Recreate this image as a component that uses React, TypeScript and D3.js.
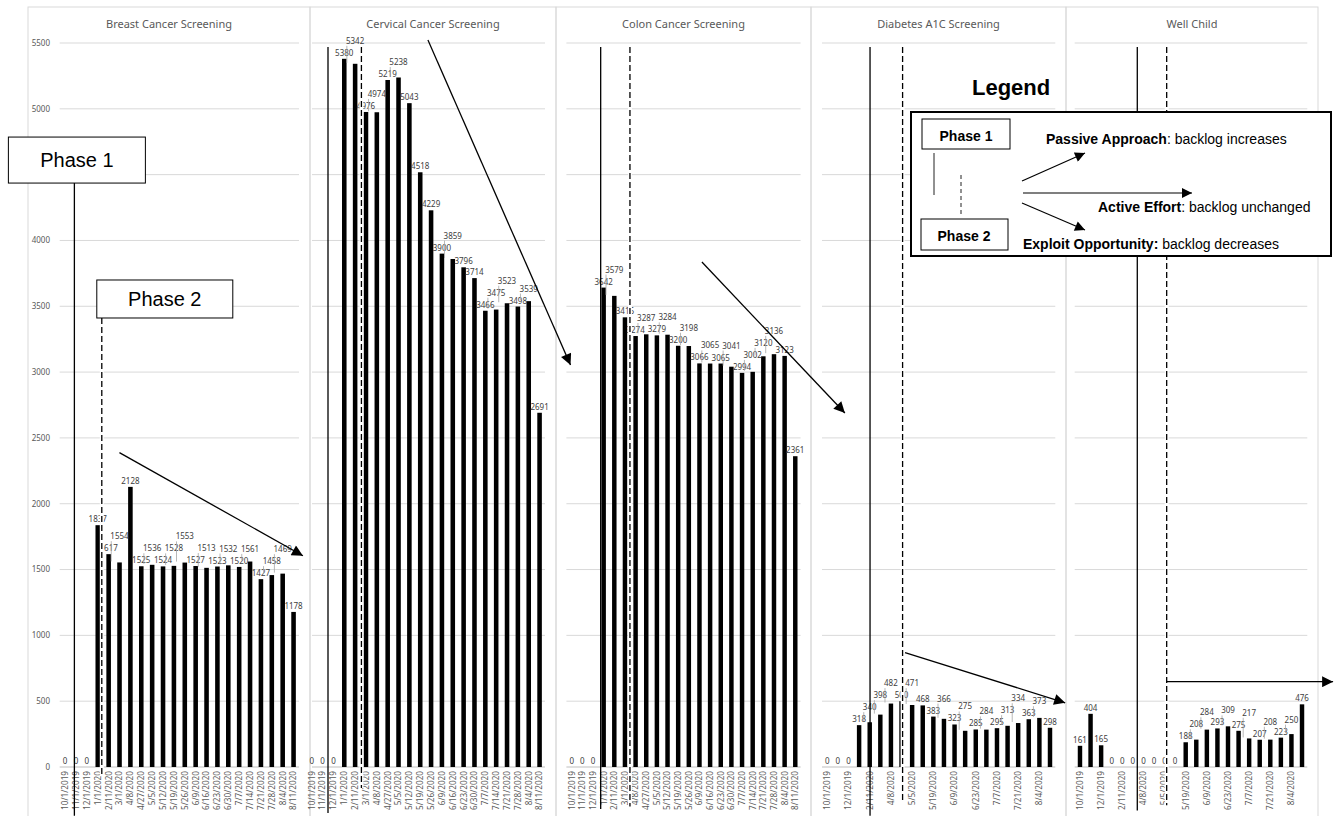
import React from "react";
import * as d3 from "d3";

const categories = ["10/1/2019","11/1/2019","12/1/2019","1/1/2020","2/11/2020","3/1/2020","4/8/2020","4/27/2020","5/5/2020","5/12/2020","5/19/2020","5/26/2020","6/9/2020","6/16/2020","6/23/2020","6/30/2020","7/7/2020","7/14/2020","7/21/2020","7/28/2020","8/4/2020","8/11/2020"];

const breast = [0,0,0,1837,1617,1554,2128,1525,1536,1524,1528,1553,1527,1513,1523,1532,1520,1561,1427,1458,1469,1178];
const cervical = [0,0,0,5380,5342,4976,4974,5219,5238,5043,4518,4229,3900,3859,3796,3714,3466,3475,3523,3498,3539,2691];
const colon = [0,0,0,3642,3579,3416,3274,3287,3279,3284,3200,3198,3066,3065,3065,3041,2994,3002,3120,3136,3123,2361];
const diabetes = [0,0,0,318,340,398,482,500,471,468,383,366,323,275,285,284,295,313,334,363,373,298];
const wellChild = [161,404,165,0,0,0,0,0,0,0,188,208,284,293,309,275,217,207,208,223,250,476];

const yTicks = d3.range(0, 5501, 500);

// phase markers in data units: [category index, top value, bottom value]
const phase1Lines = [[0.85, 4436, -370], [1.5, 5470, -350], [2.72, 5470, -320], [4.03, 5470, -370], [5.42, 5470, -330]];
const phase2Lines = [[3.37, 3411, -60], [4.58, 5470, -160], [5.47, 5470, -300], [7.1, 5470, -250], [8.2, 5470, -290]];
// trend arrows in data units: [fromIdx, fromValue, toIdx, toValue]
const trendArrows = [[4.99, 2388, 21.86, 1605], [10.71, 5523, 23.85, 3054], [12.23, 3836, 25.66, 2689], [7.33, 868, 22.43, 488], [8.2, 648, 23.94, 648]];

const titles = ["Breast Cancer Screening", "Cervical Cancer Screening", "Colon Cancer Screening", "Diabetes A1C Screening", "Well Child"];
const seriesList = [breast, cervical, colon, diabetes, wellChild];
const labelEvery = [1, 1, 1, 2, 2];

// layout
const W = 1338, H = 816;
const Y0 = 767, YTOP = 43;
const panelBoxes = [[28, 310], [310, 556], [556, 811], [811, 1066], [1066, 1318]];
const plotRanges = [[59.7, 299], [306.3, 545], [566.4, 800.6], [822, 1055.3], [1074.7, 1307.3]];

const FONT = "'Noto Sans', sans-serif";
const ARIAL = "'Liberation Sans', Arial, sans-serif";
const GRAY = "#595959";

function Panel({ idx, y }: { idx: number; y: d3.ScaleLinear<number, number> }) {
  const values = seriesList[idx];
  const [px0, px1] = panelBoxes[idx];
  const range = plotRanges[idx] as [number, number];
  const xb = d3.scaleBand<string>().domain(categories).range(range).paddingInner(0.58).paddingOuter(0.29);
  const xi = d3.scaleLinear().domain([-0.5, categories.length - 0.5]).range(range);
  const fs = 8;
  const labels: { v: number; cx: number; top: number; w: number; base: number }[] = [];
  values.forEach((v, i) => {
    const cx = xi(i);
    const top = y(v);
    const w = String(v).length * fs * 0.58;
    let base = top - 3;
    const prev = labels[i - 1];
    if (prev && Math.abs(prev.cx - cx) < (prev.w + w) / 2 + 1 && Math.abs(prev.base - base) < fs + 1) {
      base = prev.base - (fs + 4);
    }
    labels.push({ v, cx, top, w, base });
  });
  const gx0 = Math.max(range[0], px0 + 2);
  return (
    <g>
      <rect x={px0} y={7} width={px1 - px0} height={830} fill="none" stroke="#d9d9d9" strokeWidth={1} />
      <text x={(px0 + px1) / 2} y={28} textAnchor="middle" fontSize={11} fill={GRAY} fontFamily={FONT}>{titles[idx]}</text>
      {yTicks.map(t => (
        <line key={t} x1={gx0} x2={range[1]} y1={y(t)} y2={y(t)} stroke={t === 0 ? "#bfbfbf" : "#d9d9d9"} strokeWidth={1} />
      ))}
      {idx === 0 && yTicks.map(t => (
        <text key={"yl" + t} x={50} y={y(t)} dy="0.35em" textAnchor="end" fontSize={8} fill={GRAY} fontFamily={FONT}>{t}</text>
      ))}
      {values.map((v, i) => (
        <rect key={i} x={xb(categories[i])} y={y(v)} width={xb.bandwidth()} height={Y0 - y(v)} fill="#000" />
      ))}
      {labels.map((l, i) => (
        <g key={"l" + i}>
          {l.base < l.top - 7 && (
            <line x1={l.cx - l.w / 2 + 1} x2={l.cx - l.w / 2 + 1} y1={l.base + 2} y2={l.top - 1} stroke="#a6a6a6" strokeWidth={0.8} />
          )}
          <text x={l.cx} y={l.base} textAnchor="middle" fontSize={fs} fill="#404040" fontFamily={FONT}>{l.v}</text>
        </g>
      ))}
      {categories.map((c, i) => (i % labelEvery[idx] === 0 ? (
        <text key={"t" + i} transform={`translate(${xi(i)},${Y0 + 4}) rotate(-90)`} dy="0.35em" textAnchor="end" fontSize={8.2} fill={GRAY} fontFamily={FONT}>{c}</text>
      ) : null))}
    </g>
  );
}

function Annotations({ idx, y }: { idx: number; y: d3.ScaleLinear<number, number> }) {
  const range = plotRanges[idx] as [number, number];
  const xi = d3.scaleLinear().domain([-0.5, categories.length - 0.5]).range(range);
  const p1 = phase1Lines[idx];
  const p2 = phase2Lines[idx];
  const a = trendArrows[idx];
  return (
    <g>
      <line x1={xi(p1[0])} x2={xi(p1[0])} y1={y(p1[1])} y2={y(p1[2])} stroke="#000" strokeWidth={1.3} />
      <line x1={xi(p2[0])} x2={xi(p2[0])} y1={y(p2[1])} y2={y(p2[2])} stroke="#fff" strokeWidth={4} />
      <line x1={xi(p2[0])} x2={xi(p2[0])} y1={y(p2[1])} y2={y(p2[2])} stroke="#000" strokeWidth={1.3} strokeDasharray="6,3" />
      <line x1={xi(a[0])} y1={y(a[1])} x2={xi(a[2])} y2={y(a[3])} stroke="#000" strokeWidth={1.3} markerEnd="url(#ah)" />
    </g>
  );
}

function PhaseBoxes({ y }: { y: d3.ScaleLinear<number, number> }) {
  const xi = d3.scaleLinear().domain([-0.5, categories.length - 0.5]).range(plotRanges[0] as [number, number]);
  const s1 = xi(phase1Lines[0][0]);
  const t1 = y(phase1Lines[0][1]);
  const s2 = xi(phase2Lines[0][0]);
  const t2 = y(phase2Lines[0][1]);
  return (
    <g fontFamily={ARIAL}>
      <rect x={s1 - 66} y={t1 - 46} width={137} height={46} fill="#fff" stroke="#000" strokeWidth={1} />
      <text x={s1 + 2.5} y={t1 - 16} textAnchor="middle" fontSize={20}>Phase 1</text>
      <rect x={s2 - 5} y={t2 - 38} width={136} height={38} fill="#fff" stroke="#000" strokeWidth={1} />
      <text x={s2 + 63} y={t2 - 12} textAnchor="middle" fontSize={20}>Phase 2</text>
    </g>
  );
}

function Legend() {
  return (
    <g fontFamily={ARIAL}>
      <text x={972} y={95} fontSize={22} fontWeight="bold">Legend</text>
      <rect x={911} y={112} width={420} height={144} fill="#fff" stroke="#000" strokeWidth={2} />
      <rect x={922} y={119} width={88} height={30} fill="#fff" stroke="#000" strokeWidth={1} />
      <text x={966} y={141} textAnchor="middle" fontSize={14} fontWeight="bold">Phase 1</text>
      <line x1={934} x2={934} y1={153} y2={195} stroke="#222" strokeWidth={1} />
      <line x1={961} x2={961} y1={175} y2={217} stroke="#222" strokeWidth={1} strokeDasharray="4,3" />
      <rect x={921} y={219} width={87} height={31} fill="#fff" stroke="#000" strokeWidth={1} />
      <text x={964} y={241} textAnchor="middle" fontSize={14} fontWeight="bold">Phase 2</text>
      <line x1={1022} y1={181} x2={1085} y2={153} stroke="#000" strokeWidth={1.2} markerEnd="url(#ahs)" />
      <line x1={1023} y1={193} x2={1192} y2={193} stroke="#000" strokeWidth={1.2} markerEnd="url(#ahs)" />
      <line x1={1022} y1={203} x2={1085} y2={230} stroke="#000" strokeWidth={1.2} markerEnd="url(#ahs)" />
      <text x={1046} y={144} fontSize={14}><tspan fontWeight="bold">Passive Approach</tspan>: backlog increases</text>
      <text x={1098} y={212} fontSize={14}><tspan fontWeight="bold">Active Effort</tspan>: backlog unchanged</text>
      <text x={1023} y={249} fontSize={14}><tspan fontWeight="bold">Exploit Opportunity:</tspan> backlog decreases</text>
    </g>
  );
}

export default function App() {
  const y = d3.scaleLinear().domain([0, 5500]).range([Y0, YTOP]);
  return (
    <svg width={W} height={H} style={{ position: "absolute", left: 0, top: 0, background: "#fff" }}>
      <defs>
        <marker id="ah" viewBox="0 0 10 10" refX="10" refY="5" markerWidth="15" markerHeight="11" markerUnits="userSpaceOnUse" orient="auto">
          <path d="M0,0L10,5L0,10z" fill="#000" />
        </marker>
        <marker id="ahs" viewBox="0 0 10 10" refX="10" refY="5" markerWidth="12" markerHeight="10" markerUnits="userSpaceOnUse" orient="auto">
          <path d="M0,0L10,5L0,10z" fill="#000" />
        </marker>
      </defs>
      <rect width={W} height={H} fill="#fff" />
      {titles.map((t, i) => <Panel key={t} idx={i} y={y} />)}
      {titles.map((t, i) => <Annotations key={"a" + t} idx={i} y={y} />)}
      <PhaseBoxes y={y} />
      <Legend />
    </svg>
  );
}
